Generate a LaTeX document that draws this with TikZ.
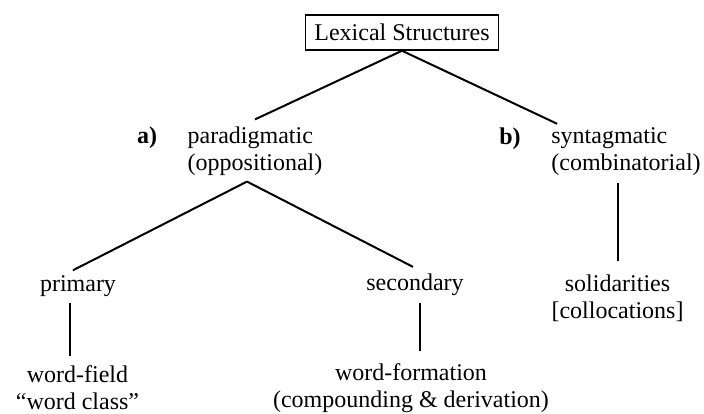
\documentclass[tikz,border=0pt]{standalone}
\usepackage{fontspec}
\setmainfont{Liberation Serif}
\usepackage{tikz}
\usetikzlibrary{calc}
\newcommand{\TreeFont}{\fontsize{24}{27}\selectfont}

\begin{document}
\begin{tikzpicture}[x=1pt,y=-1pt,
  every node/.style={font=\TreeFont,inner sep=2pt},
  branch/.style={black,line width=2pt},
  tag/.style={anchor=base,font=\TreeFont\bfseries},
  rootbox/.style={draw,line width=1.6pt,inner xsep=9pt,inner ysep=9pt}]
\useasboundingbox (0,0) rectangle (704,414);

\node[rootbox] (lex) at (402,32.5) {Lexical Structures};

\node[align=left] (para) at (255,151) {paradigmatic\\(oppositional)};
\node[tag] (la) at (147,143.5) {a)};
\node[align=left] (syn) at (626,152) {syntagmatic\\(combinatorial)};
\node[tag] (lb) at (510,144.5) {b)};

\node (prim) at (78,286) {primary};
\node (sec) at (415,285) {secondary};
\node[align=center] (wf) at (77.5,388) {word-field\\``word class''};
\node[align=center] (wfo) at (411,388) {word-formation\\(compounding \& derivation)};
\node[align=center] (sol) at (617.5,298.5) {solidarities\\{[collocations]}};

\draw[branch] (lex.south) -- ([yshift=5pt]para.north);% left branch
\draw[branch] (lex.south) -- ([xshift=8pt,yshift=2pt]syn.north west);% right branch
\draw[branch] ([xshift=-8pt,yshift=-4pt]para.south) -- ([xshift=-5pt,yshift=3pt]prim.north);
\draw[branch] ([xshift=-8pt,yshift=-4pt]para.south) -- ([xshift=-2pt,yshift=5pt]sec.north);
\draw[branch] ([xshift=-8pt,yshift=-4.5pt]prim.south) -- ([xshift=-7.5pt,yshift=8pt]wf.north);
\draw[branch] ([xshift=5pt,yshift=-4.5pt]sec.south) -- ([xshift=9pt,yshift=10pt]wfo.north);
\draw[branch] ([yshift=12pt]sol.north) -- ([yshift=-4.5pt]sol.north |- syn.south);
\end{tikzpicture}
\end{document}
